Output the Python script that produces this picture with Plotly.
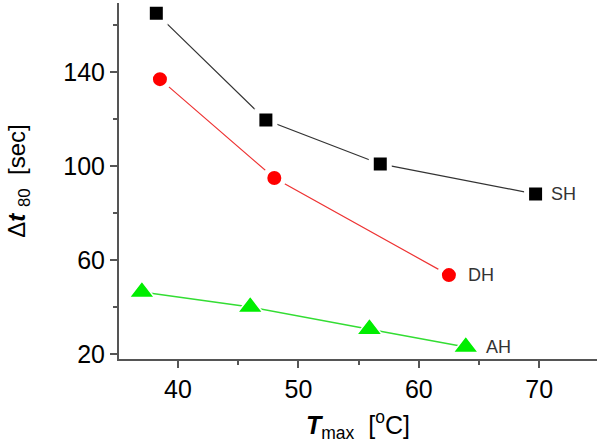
import plotly.graph_objects as go

sh_x = [38.2, 47.3, 56.8, 69.7]
sh_y = [165.0, 119.6, 100.9, 88.1]
dh_x = [38.5, 48.0, 62.5]
dh_y = [137.0, 94.9, 53.6]
ah_x = [37.0, 46.0, 55.9, 63.9]
ah_y = [46.4, 40.0, 30.6, 23.0]
labels = ["SH", "DH", "AH"]

FONT = "Liberation Sans, Arial, sans-serif"

fig = go.Figure()
fig.add_trace(go.Scatter(x=sh_x, y=sh_y, mode="lines+markers",
                         line=dict(color="#333333", width=1.2),
                         marker=dict(symbol="square", size=18, color="black",
                                     line=dict(color="white", width=5))))
fig.add_trace(go.Scatter(x=dh_x, y=dh_y, mode="lines+markers",
                         line=dict(color="#ee3333", width=1.2),
                         marker=dict(symbol="circle", size=19, color="#ff0000",
                                     line=dict(color="white", width=5))))
fig.add_trace(go.Scatter(x=ah_x, y=ah_y, mode="lines+markers",
                         line=dict(color="#33dd33", width=1.5),
                         marker=dict(symbol="triangle-up", size=22, color="#00ee00",
                                     line=dict(color="white", width=1.5))))

for xs, ys, lab, sh in [(sh_x, sh_y, labels[0], 13), (dh_x, dh_y, labels[1], 17), (ah_x, ah_y, labels[2], 18)]:
    fig.add_annotation(x=xs[-1], y=ys[-1], text=lab, showarrow=False,
                       xanchor="left", xshift=sh, yshift=0,
                       font=dict(family=FONT, size=18, color="#333333"))

axis_common = dict(showline=True, linecolor="#555555", linewidth=2, ticks="outside",
                   ticklen=7, tickwidth=1.5, tickcolor="#555555", showgrid=False, zeroline=False,
                   tickfont=dict(family=FONT, size=25, color="black"))

fig.update_xaxes(range=[35.1, 74.8], tickvals=[40, 50, 60, 70],
                 minor=dict(tickvals=[45, 55, 65], ticklen=4, tickcolor="#555555", ticks="outside"),
                 **axis_common)
fig.update_yaxes(range=[17.9, 169.4], tickvals=[20, 60, 100, 140],
                 minor=dict(tickvals=[40, 80, 120, 160], ticklen=4, tickcolor="#555555", ticks="outside"),
                 **axis_common)

fig.add_annotation(xref="paper", yref="paper", x=-0.212, y=0.5, xanchor="center", yanchor="middle",
                   text="Δ<b><i>t</i></b> <sub>80</sub>  [sec]", textangle=-90, showarrow=False,
                   font=dict(family=FONT, size=24, color="black"))
fig.add_annotation(xref="paper", yref="paper", x=0.5, y=-0.185, xanchor="center", yanchor="middle",
                   text="<b><i>T</i></b><sub>max</sub>  [<sup>o</sup>C]", showarrow=False,
                   font=dict(family=FONT, size=25, color="black"))

fig.update_layout(width=601, height=442, showlegend=False,
                  margin=dict(l=119, r=4, t=3, b=83),
                  plot_bgcolor="white", paper_bgcolor="white")

fig.write_html("out.html", config={"displayModeBar": False},
               post_script="document.body.style.margin='0';")
